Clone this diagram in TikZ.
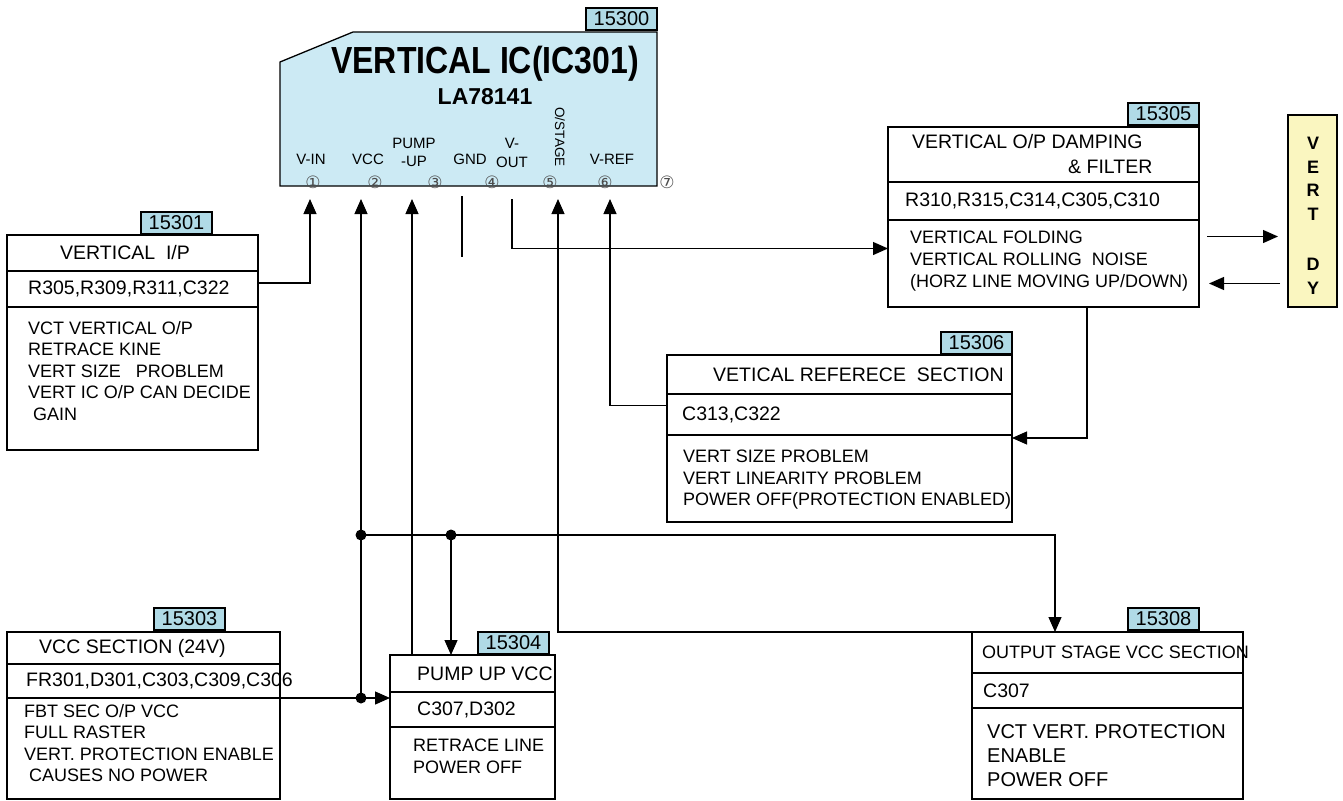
\documentclass[tikz,border=0pt]{standalone}
\usepackage{fontspec}
\setmainfont{Liberation Sans}
\newfontfamily\circfont{DejaVu Sans}
\usetikzlibrary{arrows.meta, positioning}

\definecolor{icblue}{RGB}{204,234,244}
\definecolor{tagblue}{RGB}{176,218,230}
\definecolor{dyyellow}{RGB}{250,246,192}

\newcommand{\fsz}[2]{\fontsize{#1}{#2}\selectfont}

\begin{document}
\begin{tikzpicture}[
    x=1pt, y=-1pt,
    frame/.style={rectangle, draw, line width=1.2pt, inner sep=0pt, outer sep=0pt, anchor=north west},
    tag/.style={rectangle, draw, fill=tagblue, line width=1.5pt, inner sep=0pt, outer sep=0pt, minimum width=71pt, minimum height=22pt, font=\fsz{20}{20}},
    head/.style={inner sep=0pt, anchor=west, align=left, font=\fsz{19.5}{25}},
    part/.style={inner sep=0pt, anchor=west, font=\fsz{19.5}{20}},
    body/.style={inner sep=0pt, anchor=north west, align=left, font=\fsz{18}{21.5}},
    pin/.style={inner sep=0pt, align=center, font=\fsz{15}{18}},
    pinno/.style={inner sep=0pt, text=black!70, font=\circfont\fsz{17}{17}},
    line/.style={draw, line width=1.2pt, -{Triangle[width=13pt,length=15pt]}},
    wire/.style={draw, line width=1.2pt},
    dot/.style={circle, fill, inner sep=0pt, minimum size=11pt}
]
    \useasboundingbox (0,0) rectangle (1343,800);

    % Vertical IC
    \node[inner sep=0pt, outer sep=0pt, minimum width=377pt, minimum height=154pt, anchor=north west] (ic) at (280,32) {};
    \draw[fill=icblue, line width=1.3pt] ([shift={(0,30)}]ic.north west) -- ([shift={(73,0)}]ic.north west) -- (ic.north east) -- (ic.south east) -- (ic.south west) -- cycle;
    \node[tag, anchor=south east] (ic-tag) at (657,30) {15300};
    \node[font=\bfseries\fsz{32}{32}] (ic-title) at (485,64) {\scalebox{1}[1.18]{VERTICAL IC(IC301)}};
    \node[font=\bfseries\fsz{23}{23}] (ic-type) at (485,97) {LA78141};
    \node[pin] (vin-name) at (311,159) {V-IN};
    \node[pin] (vcc-name) at (368,159) {VCC};
    \node[pin] (pump-name) at (414,152) {PUMP\\-UP};
    \node[pin] (gnd-name) at (470,159) {GND};
    \node[pin, font=\fsz{15}{19}] (vout-name) at (512,153) {V-\\OUT};
    \node[pin, rotate=-90, font=\fsz{13.5}{14}] (ostage-name) at (560,137) {O/STAGE};
    \node[pin] (vref-name) at (612,159) {V-REF};
    \node[pinno] (no1) at (313,182) {①};
    \node[pinno] (no2) at (375,182) {②};
    \node[pinno] (no3) at (435,182) {③};
    \node[pinno] (no4) at (492,182) {④};
    \node[pinno] (no5) at (550,182) {⑤};
    \node[pinno] (no6) at (605,182) {⑥};
    \node[pinno] (no7) at (667,182) {⑦};
    \coordinate (pin1) at ([shift={(30,13)}]ic.south west);
    \coordinate (pin2) at ([shift={(81,13)}]ic.south west);
    \coordinate (pin3) at ([shift={(132,13)}]ic.south west);
    \coordinate (gnd) at ([shift={(182,10)}]ic.south west);
    \coordinate (vout) at ([shift={(232,13)}]ic.south west);
    \coordinate (pin5) at ([shift={(278,13)}]ic.south west);
    \coordinate (pin6) at ([shift={(330,13)}]ic.south west);

    % 15301 vertical i/p
    \node[frame, minimum width=251pt, minimum height=36pt] (vip-head) at (7,235) {};
    \node[frame, minimum width=251pt, minimum height=36pt, below=0pt of vip-head] (vip-part) {};
    \node[frame, minimum width=251pt, minimum height=143pt, below=0pt of vip-part] (vip-body) {};
    \node[tag, anchor=south west] (vip-tag) at (141,234) {15301};
    \node[head, right=53pt of vip-head.west] (vip-title) {VERTICAL\ \ I/P};
    \node[part, right=21pt of vip-part.west] (vip-parts) {R305,R309,R311,C322};
    \node[body, below right=14pt and 21pt of vip-body.north west] (vip-notes) {VCT VERTICAL O/P\\RETRACE KINE\\VERT SIZE\ \ \ PROBLEM\\VERT IC O/P CAN DECIDE\\\hspace*{5pt}GAIN};

    % 15303 vcc section
    \node[frame, minimum width=273pt, minimum height=32pt] (vcc-head) at (7,632) {};
    \node[frame, minimum width=273pt, minimum height=34pt, below=0pt of vcc-head] (vcc-part) {};
    \node[frame, minimum width=273pt, minimum height=101pt, below=0pt of vcc-part] (vcc-body) {};
    \node[tag, anchor=south west] (vcc-tag) at (154,630) {15303};
    \node[head, right=32pt of vcc-head.west] (vcc-title) {VCC SECTION (24V)};
    \node[part, right=19pt of vcc-part.west] (vcc-parts) {FR301,D301,C303,C309,C306};
    \node[body, below right=6pt and 17pt of vcc-body.north west] (vcc-notes) {FBT SEC O/P VCC\\FULL RASTER\\VERT. PROTECTION ENABLE\\\hspace*{5pt}CAUSES NO POWER};

    % 15304 pump up vcc
    \node[frame, minimum width=165pt, minimum height=37pt] (pump-head) at (390,655) {};
    \node[frame, minimum width=165pt, minimum height=35pt, below=0pt of pump-head] (pump-part) {};
    \node[frame, minimum width=165pt, minimum height=72pt, below=0pt of pump-part] (pump-body) {};
    \node[tag, anchor=south west] (pump-tag) at (478,654) {15304};
    \node[head, right=27pt of pump-head.west] (pump-title) {PUMP UP VCC};
    \node[part, right=27pt of pump-part.west] (pump-parts) {C307,D302};
    \node[body, below right=12pt and 23pt of pump-body.north west] (pump-notes) {RETRACE LINE\\POWER OFF};

    % 15305 damping & filter
    \node[frame, minimum width=311pt, minimum height=55pt] (dmp-head) at (888,127) {};
    \node[frame, minimum width=311pt, minimum height=38pt, below=0pt of dmp-head] (dmp-part) {};
    \node[frame, minimum width=311pt, minimum height=87pt, below=0pt of dmp-part] (dmp-body) {};
    \node[tag, anchor=south east] (dmp-tag) at (1199,125) {15305};
    \node[head, right=24pt of dmp-head.west] (dmp-title) {VERTICAL O/P DAMPING\\\hspace*{156pt}\& FILTER};
    \node[part, right=17pt of dmp-part.west] (dmp-parts) {R310,R315,C314,C305,C310};
    \node[body, font=\fsz{18}{22}, below right=11pt and 22pt of dmp-body.north west] (dmp-notes) {VERTICAL FOLDING\\VERTICAL ROLLING\ \ NOISE\\(HORZ LINE MOVING UP/DOWN)};

    % vert dy
    \node[frame, fill=dyyellow, minimum width=49pt, minimum height=192pt] (dy) at (1288,115) {};
    \node[inner sep=0pt, align=center, font=\bfseries\fsz{18}{23.5}] (dy-name) at (1313,216) {V\\E\\R\\T\\[27pt]D\\Y};

    % 15306 reference section
    \node[frame, minimum width=345pt, minimum height=39pt] (ref-head) at (667,355) {};
    \node[frame, minimum width=345pt, minimum height=41pt, below=0pt of ref-head] (ref-part) {};
    \node[frame, minimum width=345pt, minimum height=87pt, below=0pt of ref-part] (ref-body) {};
    \node[tag, anchor=south east] (ref-tag) at (1012,354) {15306};
    \node[head, right=46pt of ref-head.west] (ref-title) {VETICAL REFERECE\ \ SECTION};
    \node[part, right=15pt of ref-part.west] (ref-parts) {C313,C322};
    \node[body, below right=15pt and 16pt of ref-body.north west] (ref-notes) {VERT SIZE PROBLEM\\VERT LINEARITY PROBLEM\\POWER OFF(PROTECTION ENABLED)};

    % 15308 output stage vcc
    \node[frame, minimum width=271pt, minimum height=41pt] (osv-head) at (972,632) {};
    \node[frame, minimum width=271pt, minimum height=35pt, below=0pt of osv-head] (osv-part) {};
    \node[frame, minimum width=271pt, minimum height=91pt, below=0pt of osv-part] (osv-body) {};
    \node[tag, anchor=south west] (osv-tag) at (1128,630) {15308};
    \node[head, font=\fsz{18}{20}, right=10pt of osv-head.west] (osv-title) {OUTPUT STAGE VCC SECTION};
    \node[part, right=11pt of osv-part.west] (osv-parts) {C307};
    \node[body, font=\fsz{20}{24}, below right=16pt and 15pt of osv-body.north west] (osv-notes) {VCT VERT. PROTECTION\\ENABLE\\POWER OFF};

    % Junctions
    \node[dot] (dot-v) at (vcc-part.south east -| pin2) {};
    \node[dot] (dot-a) at (361,535) {};
    \node[dot] (dot-b) at (451,535) {};

    % Edges
    \path [line] ([shift={(0,-6)}]vip-part.east) -| (pin1);
    \path [line] (dot-v.center) -- (pin2);
    \path [line] (vcc-part.south east) -- (vcc-part.south east -| pump-part.west);
    \path [line] (pump-head.north west -| pin3) -- (pin3);
    \path [wire] (gnd) -- ([shift={(0,61)}]gnd);
    \path [line] (vout) |- ([shift={(0,-15)}]dmp-body.west);
    \path [line] (osv-head.north west) -| (pin5);
    \path [line] ([shift={(0,-9)}]ref-part.west) -| (pin6);
    \path [line] (dot-a.center) -| ([shift={(83,0)}]osv-head.north west);
    \path [line] (dot-b.center) -- (dot-b |- pump-head.north);
    \path [line] ([shift={(-112,0)}]dmp-body.south east) |- ([shift={(0,3)}]ref-body.north east);
    \path [line] ([shift={(8,-27)}]dmp-body.east) -- ([shift={(-10,25.5)}]dy.west);
    \path [line] ([shift={(-8,72.5)}]dy.west) -- ([shift={(10,20)}]dmp-body.east);
\end{tikzpicture}
\end{document}
